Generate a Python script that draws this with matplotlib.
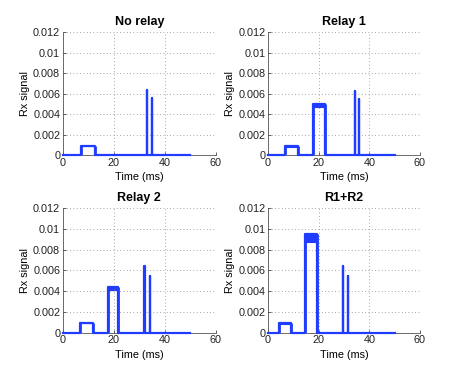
import matplotlib
matplotlib.use("Agg")
import matplotlib.pyplot as plt

plt.rcParams['font.family'] = ['Liberation Sans', 'DejaVu Sans']

titles = ["No relay", "Relay 1", "Relay 2", "R1+R2"]
# pulse (start ms, end ms, top upper, top lower)
pulses = [
    [(7.2, 12.4, 0.00092, 0.00086)],
    [(6.8, 12.0, 0.00090, 0.00082), (17.9, 22.4, 0.0050, 0.0047)],
    [(6.8, 11.7, 0.00097, 0.00090), (17.7, 21.7, 0.0044, 0.0041)],
    [(4.3, 9.2, 0.00092, 0.00085), (14.7, 19.5, 0.0095, 0.0087)],
]
# spikes (time ms, height)
spikes = [
    [(33.0, 0.0064), (34.9, 0.0056)],
    [(34.2, 0.0063), (36.0, 0.0055)],
    [(32.0, 0.0064), (34.0, 0.0055)],
    [(29.5, 0.0064), (31.4, 0.0055)],
]
t_end = [50, 50, 50, 50]

xticks = [0, 20, 40, 60]
yticks = [0, 0.002, 0.004, 0.006, 0.008, 0.01, 0.012]
yticklabels = ["0", "0.002", "0.004", "0.006", "0.008", "0.01", "0.012"]

blue = '#1f3cff'
fig = plt.figure(figsize=(4.63, 3.75), dpi=100)
positions = [
    [0.136, 0.586, 0.330, 0.328],
    [0.579, 0.586, 0.328, 0.328],
    [0.136, 0.113, 0.330, 0.332],
    [0.579, 0.113, 0.328, 0.332],
]

for i in range(4):
    ax = fig.add_axes(positions[i])
    events = []
    for (s, e, hi, lo) in pulses[i]:
        events.append(('p', s, e, hi, lo))
    for (t, h) in spikes[i]:
        events.append(('s', t, t + 0.03, h, h))
    events.sort(key=lambda ev: ev[1])
    tt = [0]
    vv = [0]
    for ev in events:
        kind, s, e, hi, lo = ev
        tt += [s, s, e, e]
        vv += [0, hi, hi, 0]
        if kind == 'p':
            ax.fill_between([s, e], [lo, lo], [hi, hi], color=blue, lw=0.8)
            ax.plot([s, s], [0, hi], color=blue, lw=2.0, solid_capstyle='butt')
            ax.plot([e, e], [0, hi], color=blue, lw=2.0, solid_capstyle='butt')
    tt.append(t_end[i])
    vv.append(0)
    ax.plot(tt, vv, color=blue, lw=1.6, zorder=3, clip_on=False)

    ax.set_xlim(0, 60)
    ax.set_ylim(0, 0.012)
    ax.set_xticks(xticks)
    ax.set_yticks(yticks)
    ax.set_yticklabels(yticklabels)
    ax.grid(True, linestyle=(0, (1, 3)), color='#888888', lw=0.6)
    for sp in ['top', 'right']:
        ax.spines[sp].set_visible(False)
    for sp in ['left', 'bottom']:
        ax.spines[sp].set_linewidth(0.6)
        ax.spines[sp].set_color('#555555')
    ax.tick_params(direction='in', length=2, width=0.5, labelsize=7.8, pad=2, colors='#222222')
    ax.set_title(titles[i], fontsize=9, fontweight='bold', pad=5)
    ax.set_xlabel("Time (ms)", fontsize=7.8, labelpad=3)
    ax.set_ylabel("Rx signal", fontsize=7.8, labelpad=2)

fig.savefig("out.png", dpi=100)
